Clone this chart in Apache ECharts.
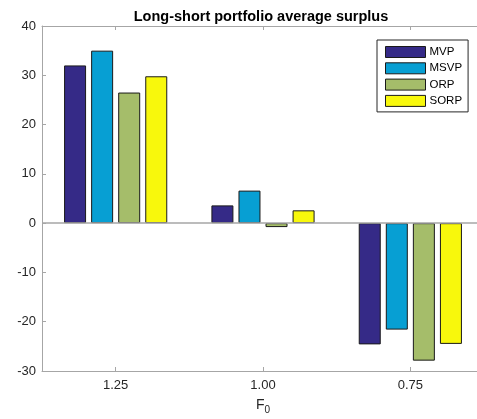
<!DOCTYPE html>
<html>
<head>
<meta charset="utf-8">
<script src="https://cdn.jsdelivr.net/npm/echarts@6/dist/echarts.min.js"></script>
<style>html,body{margin:0;padding:0;background:#fff;}#c{width:477px;height:419px;}</style>
</head>
<body>
<div id="c"></div>
<script>
var categories = ['1.25', '1.00', '0.75'];
var seriesNames = ['MVP', 'MSVP', 'ORP', 'SORP'];
var mvp = [32.0, 3.6, -24.6];
var msvp = [35.0, 6.6, -21.6];
var orp = [26.5, -0.8, -27.9];
var sorp = [29.8, 2.6, -24.5];
var yTicks = [-30, -20, -10, 0, 10, 20, 30, 40];

var colors = ['#352a87', '#079fd3', '#a5bd6a', '#f8f80c'];
var values = [mvp, msvp, orp, sorp];
var font = 'Liberation Sans, Arial, Helvetica, sans-serif';
var axisGray = '#a6a6a6';
var textColor = '#262626';

var chart = echarts.init(document.getElementById('c'), null, {renderer: 'canvas'});
var series = seriesNames.map(function (n, i) {
  var s = {
    name: n,
    type: 'bar',
    data: values[i],
    barWidth: 22,
    barGap: '23%',
    itemStyle: {color: colors[i], borderColor: '#1a1a1a', borderWidth: 1},
    emphasis: {disabled: true},
    animation: false
  };
  if (i === 0) {
    s.markLine = {
      silent: true,
      symbol: 'none',
      label: {show: false},
      lineStyle: {color: axisGray, width: 1.5, type: 'solid'},
      data: [{yAxis: 0}],
      animation: false
    };
  }
  return s;
});

chart.setOption({
  backgroundColor: '#ffffff',
  animation: false,
  title: {
    text: 'Long-short portfolio average surplus',
    left: 256,
    top: 4,
    textAlign: 'center',
    textStyle: {fontFamily: font, fontSize: 14.5, fontWeight: 'bold', color: '#000'}
  },
  legend: {
    data: seriesNames,
    orient: 'vertical',
    left: 377,
    top: 40,
    width: 90,
    padding: [6, 6, 5, 8],
    itemWidth: 40,
    itemHeight: 11,
    itemGap: 4.3,
    borderColor: '#262626',
    borderWidth: 1,
    backgroundColor: '#fff',
    icon: 'rect',
    selectedMode: false,
    textStyle: {fontFamily: font, fontSize: 11.5, lineHeight: 11, color: '#000', padding: [0, 0, 0, -1]},
    itemStyle: {borderColor: '#1a1a1a', borderWidth: 1}
  },
  grid: {left: 42, top: 26, right: -7, bottom: 48, containLabel: false, outerBoundsMode: 'none'},
  xAxis: [{
    type: 'category',
    data: categories,
    position: 'bottom',
    name: '{f|F}{s|0}',
    nameLocation: 'middle',
    nameGap: 24,
    nameTextStyle: {
      rich: {
        f: {fontFamily: font, fontSize: 14, color: textColor},
        s: {fontFamily: font, fontSize: 10, color: textColor, verticalAlign: 'bottom', padding: [10, 0, 0, 0]}
      }
    },
    axisLine: {show: true, onZero: false, lineStyle: {color: axisGray, width: 1}},
    axisTick: {show: true, inside: true, alignWithLabel: true, length: 4, lineStyle: {color: axisGray}},
    axisLabel: {fontFamily: font, fontSize: 13, color: textColor, margin: 8},
    splitLine: {show: false}
  }, {
    type: 'category',
    data: categories,
    position: 'top',
    axisLine: {show: true, onZero: false, lineStyle: {color: axisGray, width: 1}},
    axisTick: {show: true, inside: true, alignWithLabel: true, length: 4, lineStyle: {color: axisGray}},
    axisLabel: {show: false},
    splitLine: {show: false}
  }],
  yAxis: {
    type: 'value',
    min: yTicks[0],
    max: yTicks[yTicks.length - 1],
    interval: 10,
    axisLine: {show: true, lineStyle: {color: axisGray, width: 1}},
    axisTick: {show: true, inside: true, length: 4, lineStyle: {color: axisGray}},
    axisLabel: {fontFamily: font, fontSize: 13, color: textColor, margin: 6},
    splitLine: {show: false}
  },
  series: series
});
</script>
</body>
</html>
